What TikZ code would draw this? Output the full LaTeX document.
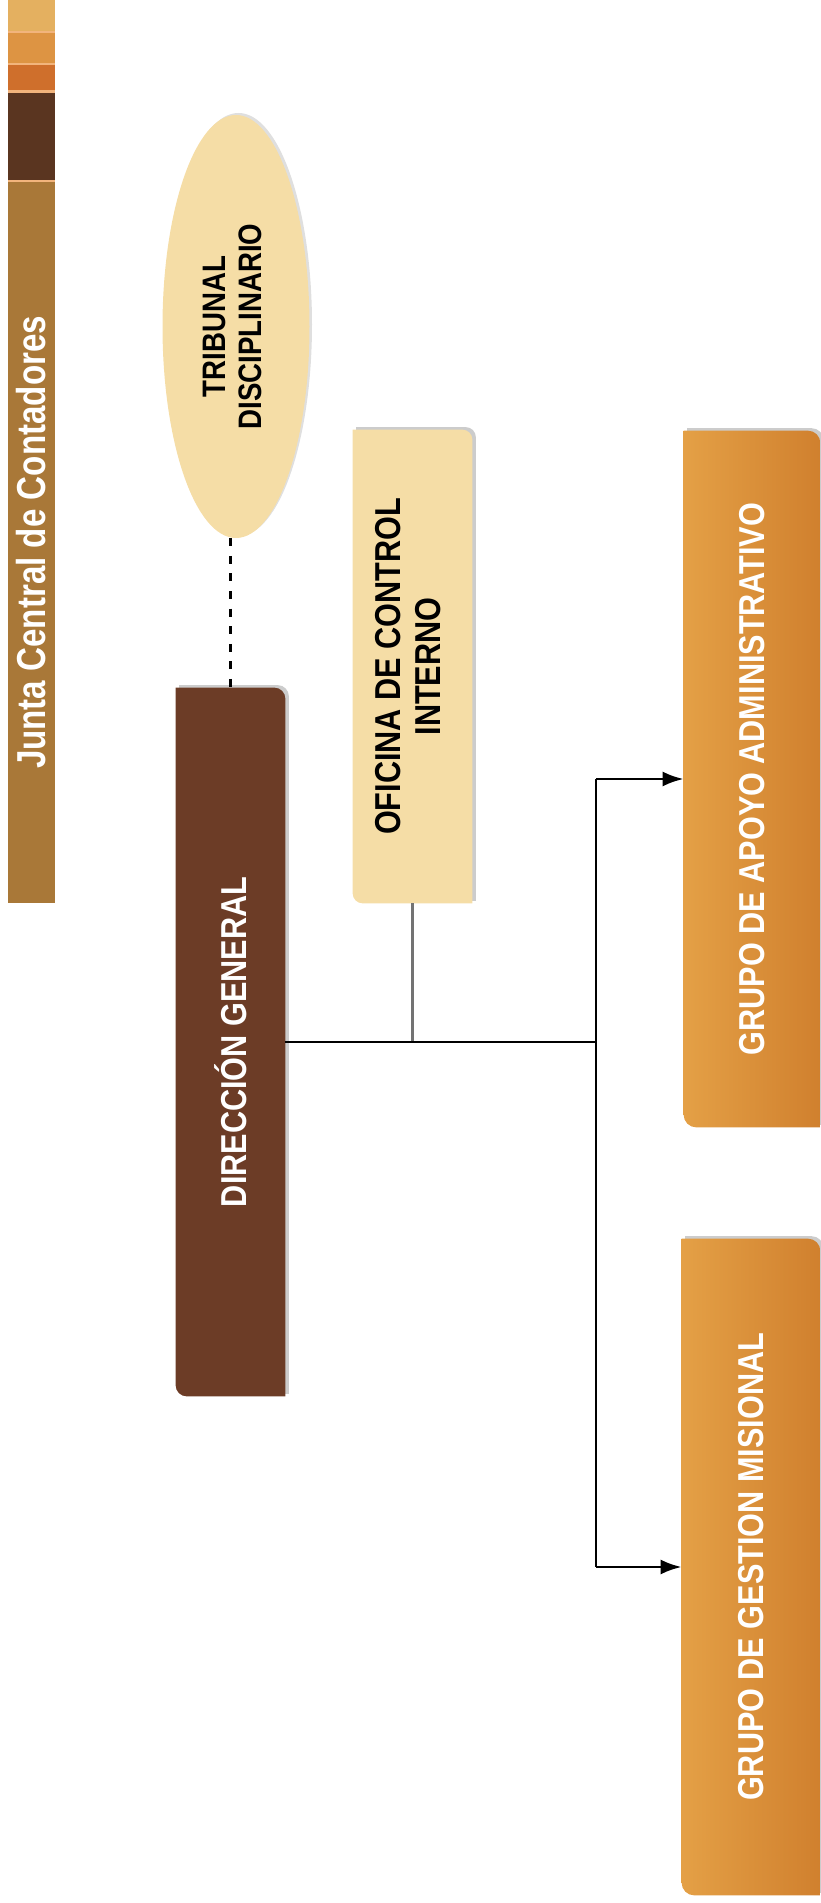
\documentclass[tikz,border=0pt]{standalone}
\usepackage{fontspec}
\usepackage{graphicx}
\setmainfont{Liberation Sans}
\newfontfamily\narrowsans[FakeStretch=0.82]{Liberation Sans}
\newfontfamily\boxsans[FakeStretch=0.85]{Liberation Sans}
\usetikzlibrary{shapes.geometric, arrows.meta, backgrounds, shadows}

\definecolor{paletan}{RGB}{245,221,166}
\definecolor{darkbrown}{RGB}{108,60,38}
\definecolor{orangelight}{RGB}{228,160,70}
\definecolor{orangedark}{RGB}{208,128,46}
\definecolor{bartan}{RGB}{169,120,56}
\definecolor{barpeach}{RGB}{242,180,124}

% fill a box with round north east and south west corners
\newcommand{\cornerfill}[3]{%
  \path[#2] (#1.north west) -- ([xshift=-#3]#1.north east)
    arc[start angle=90, end angle=0, radius=#3] -- (#1.south east)
    -- ([xshift=#3]#1.south west)
    arc[start angle=270, end angle=180, radius=#3] -- cycle;}

\begin{document}
\begin{tikzpicture}[
  boxtext/.style={font=\boxsans\bfseries\fontsize{20.5}{23}\selectfont},
  whitebox/.style={shape=rectangle, inner sep=0pt, boxtext, text=white},
  palebox/.style={shape=rectangle, inner sep=0pt, boxtext, text=black},
  boxshadow/.style={fill=black!20, transform canvas={shift={(0.07,0.05)}}},
  wire/.style={draw=black, line width=1.6pt},
  arrowwire/.style={wire, -{Latex[length=0.42cm, width=0.3cm]}},
  dashwire/.style={draw=black, line width=1.6pt, dash pattern={on 4.5pt off 5.5pt}}]
	\useasboundingbox (0,0) rectangle (16.42,38.06);
	% Side strip:
	\fill[barpeach] (0.16,20.00) rectangle (1.10,38.06);
	\fill[fill={rgb,255:red,228;green,176;blue,96}] (0.16,37.44) rectangle (1.10,38.06);
	\fill[fill={rgb,255:red,221;green,148;blue,67}] (0.16,36.80) rectangle (1.10,37.40);
	\fill[fill={rgb,255:red,207;green,111;blue,44}] (0.16,36.26) rectangle (1.10,36.76);
	\fill[fill={rgb,255:red,90;green,53;blue,32}] (0.16,34.46) rectangle (1.10,36.20);
	\node[shape=rectangle, fill=bartan, inner sep=0pt, minimum width=0.94cm, minimum height=14.42cm, text=white, font=\narrowsans\bfseries\fontsize{23}{26}\selectfont] (bar) at (0.63,27.21){\rotatebox{90}{Junta Central de Contadores}};
	% Boxes:
	\node[ellipse, fill=paletan, inner sep=0pt, minimum width=2.94cm, minimum height=8.46cm, font=\boxsans\bfseries\fontsize{18.5}{20.5}\selectfont, drop shadow={shadow xshift=0.05cm, shadow yshift=0.04cm, opacity=0.25}] (trib) at (4.72,31.53){\rotatebox{90}{\begin{tabular}{@{}c@{}}TRIBUNAL\\DISCIPLINARIO\end{tabular}}};
	\node[whitebox, minimum width=2.18cm, minimum height=14.16cm] (dg) at (4.61,17.22){\rotatebox{90}{DIRECCIÓN GENERAL}};
	\node[palebox, minimum width=2.38cm, minimum height=9.46cm] (oci) at (8.25,24.73){\rotatebox{90}{\begin{tabular}{@{}c@{}}OFICINA DE CONTROL\\INTERNO\end{tabular}}};
	\node[whitebox, minimum width=2.72cm, minimum height=13.92cm] (apoyo) at (15.04,22.48){\rotatebox{90}{GRUPO DE APOYO ADMINISTRATIVO}};
	\node[whitebox, minimum width=2.76cm, minimum height=13.12cm] (gestion) at (15.02,6.72){\rotatebox{90}{GRUPO DE GESTION MISIONAL}};
	\begin{scope}[on background layer]
		\cornerfill{dg}{boxshadow}{0.22cm}
		\cornerfill{dg}{fill=darkbrown}{0.22cm}
		\cornerfill{oci}{boxshadow}{0.2cm}
		\cornerfill{oci}{fill=paletan}{0.2cm}
		\cornerfill{apoyo}{boxshadow}{0.25cm}
		\cornerfill{apoyo}{left color=orangelight, right color=orangedark}{0.25cm}
		\cornerfill{gestion}{boxshadow}{0.25cm}
		\cornerfill{gestion}{left color=orangelight, right color=orangedark}{0.25cm}
	\end{scope}
	% Wires:
	\coordinate (trunk) at (11.92,17.22);
	\draw[dashwire] (trib.south -| dg.north) -- (dg.north);
	\draw[draw=black!55, line width=1.3pt] (oci.south) -- (oci.south |- dg.east);
	\draw[wire] (dg.east) -- (trunk);
	\draw[wire] (trunk |- apoyo.west) -- (trunk |- gestion.west);
	\draw[arrowwire] (trunk |- apoyo.west) -- (apoyo.west);
	\draw[arrowwire] (trunk |- gestion.west) -- (gestion.west);
\end{tikzpicture}
\end{document}
